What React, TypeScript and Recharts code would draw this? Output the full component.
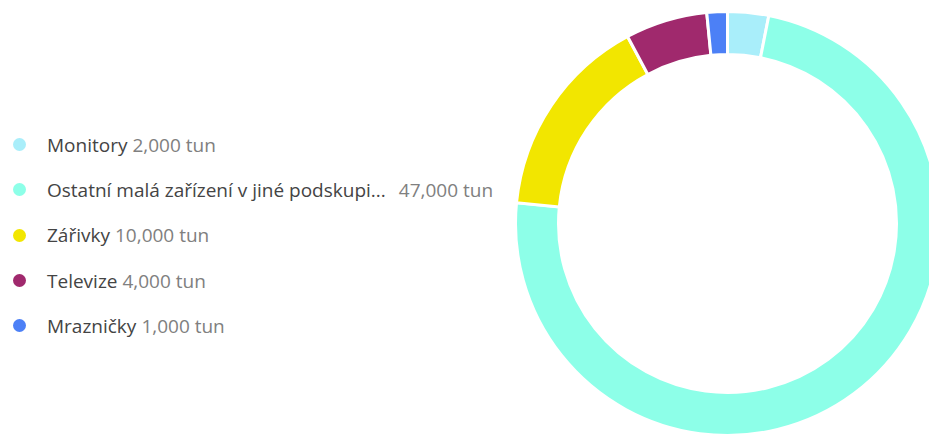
import React from 'react';
import { PieChart, Pie, Cell } from 'recharts';

// Category names, amounts (tonnes) and slice colours
const CATEGORIES = [
  'Monitory',
  'Ostatní malá zařízení v jiné podskupině',
  'Zářivky',
  'Televize',
  'Mrazničky',
];
const AMOUNTS = [2000, 47000, 10000, 4000, 1000];
const COLORS = ['#A9EEFA', '#8DFFE8', '#F2E600', '#A0296D', '#4C80F6'];
const UNIT = 'tun';
const MAX_LABEL = 37;

const data = CATEGORIES.map((name, i) => ({ name, value: AMOUNTS[i] }));

const FONT = '"Segoe UI", "Open Sans", "Noto Sans", sans-serif';

const shorten = (s: string) => (s.length > MAX_LABEL ? s.slice(0, MAX_LABEL) + '...' : s);

const LegendList: React.FC = () => (
  <div style={{ fontFamily: FONT, fontSize: 19, position: 'absolute', left: 8, top: 122 }}>
    {data.map((d, i) => {
      const label = shorten(d.name);
      return (
        <div
          key={d.name}
          style={{ display: 'flex', alignItems: 'center', height: 45.3, whiteSpace: 'nowrap' }}
        >
          <span
            style={{
              width: 13,
              height: 13,
              borderRadius: '50%',
              background: COLORS[i],
              marginLeft: 5,
              marginRight: 21,
              flex: 'none',
            }}
          />
          <span style={{ color: '#444' }}>{label}</span>
          <span style={{ color: '#808080', marginLeft: label !== d.name ? 13 : 5 }}>
            {`${d.value.toLocaleString('en-US')} ${UNIT}`}
          </span>
        </div>
      );
    })}
  </div>
);

export default function App() {
  return (
    <div
      style={{
        position: 'fixed',
        left: 0,
        top: 0,
        width: 929,
        height: 436,
        overflow: 'hidden',
        background: '#fff',
      }}
    >
      <PieChart width={960} height={440} margin={{ top: 0, right: 0, bottom: 0, left: 0 }}>
        <Pie
          data={data}
          dataKey="value"
          nameKey="name"
          cx={727.5}
          cy={223.5}
          innerRadius={169}
          outerRadius={212}
          startAngle={90}
          endAngle={-270}
          stroke="#fff"
          strokeWidth={3}
          isAnimationActive={false}
        >
          {data.map((d, i) => (
            <Cell key={d.name} fill={COLORS[i]} />
          ))}
        </Pie>
      </PieChart>
      <LegendList />
    </div>
  );
}
